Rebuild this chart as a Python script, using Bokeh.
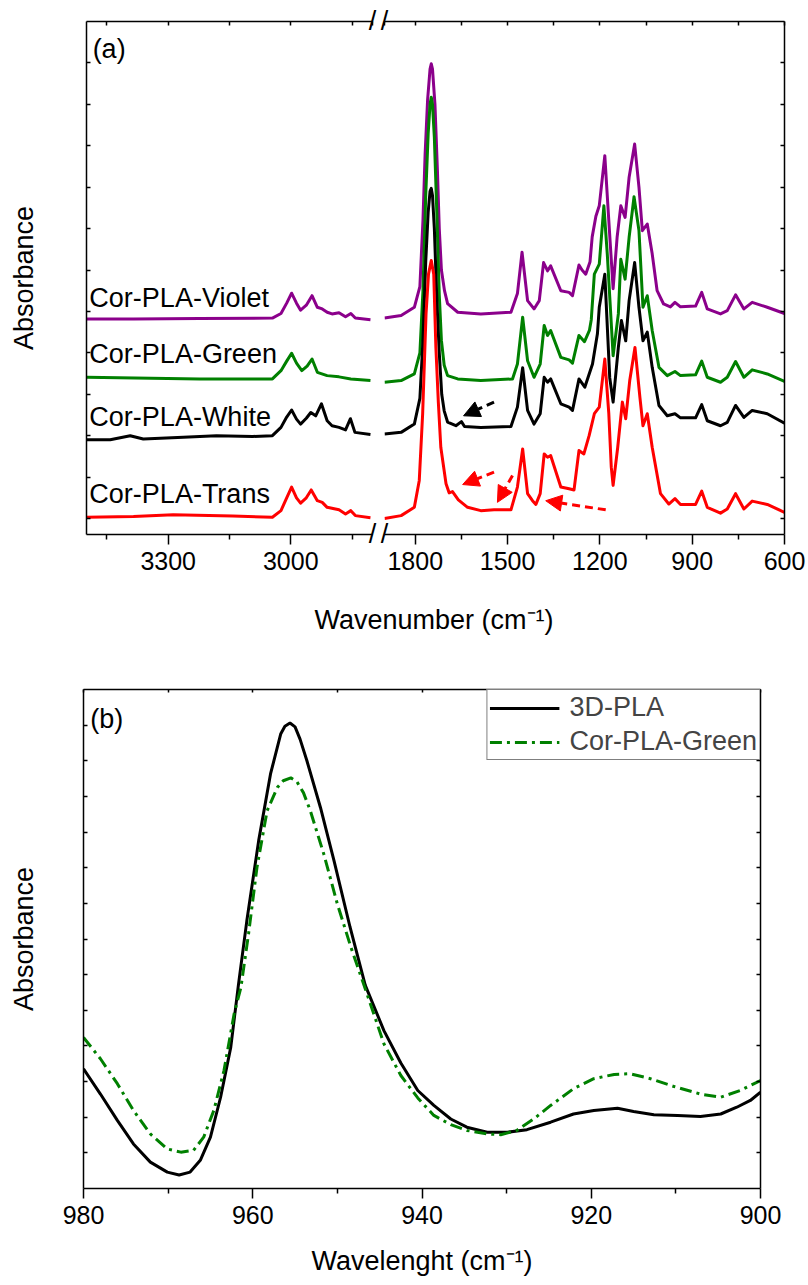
import numpy as np
from bokeh.plotting import figure
from bokeh.models import (Range1d, LinearAxis, FixedTicker, Label, Arrow, NormalHead,
                          CustomJSTickFormatter)
from bokeh.layouts import column, row
from bokeh.embed import file_html
from bokeh.resources import INLINE

NAN = float("nan")
FONT = "Liberation Sans"

# ---------------- panel (a): FTIR spectra (wavenumber, absorbance offset) ----------------
violet = [(3500, 4.82), (3385, 4.82), (3223, 4.83), (3045, 4.84), (3024, 4.95), (3010, 5.20), (2998, 5.44),
          (2986, 5.20), (2976, 5.03), (2962, 5.15), (2948, 5.38), (2935, 5.10), (2923, 5.06), (2911, 4.98),
          (2899, 4.94), (2882, 4.97), (2866, 4.87), (2853, 4.95), (2842, 4.84), (2805, 4.80), (NAN, NAN),
          (1900, 4.84), (1846, 4.90), (1803, 5.10), (1785, 5.60), (1775, 7.20), (1768, 8.80), (1760, 10.10),
          (1752, 10.85), (1748, 10.98), (1744, 10.85), (1736, 10.00), (1728, 8.40), (1722, 7.00), (1715, 6.00),
          (1705, 5.50), (1695, 5.19), (1662, 4.98), (1587, 4.94), (1489, 4.98), (1468, 5.43), (1453, 6.43),
          (1435, 5.26), (1414, 5.06), (1397, 5.26), (1383, 6.18), (1370, 5.98), (1360, 6.10), (1327, 5.50),
          (1300, 5.46), (1289, 5.38), (1268, 6.12), (1258, 6.00), (1246, 5.90), (1232, 6.20), (1225, 6.80),
          (1213, 7.30), (1202, 7.55), (1184, 8.76), (1171, 7.19), (1157, 5.55), (1144, 6.79), (1132, 7.55),
          (1118, 7.27), (1105, 8.24), (1087, 9.04), (1073, 8.00), (1062, 6.95), (1046, 7.11), (1030, 6.39),
          (1014, 5.50), (993, 5.18), (971, 5.11), (956, 5.22), (938, 5.11), (889, 5.13), (869, 5.46),
          (851, 5.06), (808, 4.94), (786, 5.02), (759, 5.40), (732, 5.06), (705, 5.22), (656, 5.10), (600, 4.95)]

green = [(3500, 3.41), (3223, 3.37), (3045, 3.37), (3024, 3.57), (3010, 3.80), (2998, 3.99), (2986, 3.75),
         (2973, 3.57), (2960, 3.68), (2948, 3.85), (2935, 3.53), (2911, 3.45), (2882, 3.42), (2853, 3.37),
         (2805, 3.33), (NAN, NAN),
         (1900, 3.29), (1846, 3.33), (1803, 3.49), (1785, 4.00), (1775, 5.50), (1766, 7.80), (1758, 9.30),
         (1752, 10.00), (1748, 10.17), (1744, 10.00), (1738, 9.20), (1730, 7.40), (1722, 5.40), (1715, 4.30),
         (1706, 3.70), (1695, 3.45), (1662, 3.37), (1587, 3.33), (1484, 3.37), (1468, 3.73), (1451, 4.86),
         (1435, 3.81), (1414, 3.41), (1394, 3.73), (1381, 4.66), (1370, 4.42), (1360, 4.54), (1327, 3.89),
         (1300, 3.83), (1289, 3.75), (1268, 4.42), (1250, 4.27), (1234, 4.54), (1228, 4.80), (1218, 5.90),
         (1202, 6.14), (1187, 7.55), (1176, 6.39), (1166, 5.10), (1157, 3.93), (1140, 4.94), (1132, 6.26),
         (1118, 5.78), (1105, 6.79), (1089, 7.77), (1073, 6.95), (1060, 5.10), (1046, 5.38), (1030, 4.54),
         (1008, 3.65), (981, 3.45), (956, 3.55), (938, 3.45), (889, 3.47), (869, 3.80), (851, 3.41),
         (808, 3.29), (786, 3.41), (759, 3.79), (732, 3.41), (705, 3.59), (656, 3.49), (600, 3.31)]

white = [(3500, 1.90), (3442, 1.90), (3393, 2.00), (3361, 1.92), (3263, 1.96), (3182, 2.00), (3093, 1.98),
         (3045, 2.00), (3024, 2.20), (3010, 2.45), (2998, 2.62), (2986, 2.40), (2976, 2.28), (2962, 2.42),
         (2951, 2.56), (2939, 2.48), (2925, 2.77), (2911, 2.36), (2899, 2.24), (2882, 2.20), (2866, 2.14),
         (2854, 2.41), (2843, 2.08), (2805, 2.03), (NAN, NAN),
         (1900, 2.04), (1846, 2.08), (1803, 2.28), (1785, 2.90), (1775, 4.30), (1766, 6.20), (1758, 7.40),
         (1752, 7.90), (1748, 7.97), (1744, 7.80), (1738, 7.00), (1730, 5.30), (1722, 4.00), (1714, 3.00),
         (1706, 2.60), (1695, 2.33), (1668, 2.24), (1650, 2.34), (1640, 2.22), (1587, 2.20), (1489, 2.22),
         (1468, 2.69), (1451, 3.64), (1435, 2.61), (1414, 2.28), (1394, 2.53), (1381, 3.41), (1370, 3.29),
         (1360, 3.37), (1327, 2.77), (1300, 2.69), (1289, 2.61), (1268, 3.37), (1249, 3.17), (1224, 3.73),
         (1208, 4.46), (1202, 5.10), (1184, 5.90), (1168, 3.40), (1157, 2.81), (1140, 4.13), (1130, 4.78),
         (1116, 4.29), (1105, 5.26), (1087, 6.18), (1073, 5.10), (1060, 4.29), (1046, 4.50), (1030, 3.65),
         (1008, 2.73), (981, 2.48), (956, 2.53), (938, 2.43), (889, 2.43), (869, 2.75), (851, 2.36),
         (808, 2.24), (786, 2.32), (759, 2.73), (732, 2.44), (705, 2.61), (656, 2.53), (600, 2.30)]

trans = [(3500, 0.03), (3385, 0.05), (3288, 0.09), (3142, 0.06), (3045, 0.03), (3024, 0.19), (3010, 0.50),
         (2998, 0.76), (2986, 0.50), (2976, 0.37), (2962, 0.50), (2950, 0.69), (2935, 0.43), (2923, 0.39),
         (2911, 0.27), (2882, 0.21), (2866, 0.11), (2853, 0.19), (2842, 0.07), (2805, 0.02), (NAN, NAN),
         (1900, 0.00), (1846, 0.07), (1803, 0.27), (1787, 0.92), (1776, 2.53), (1765, 4.94), (1757, 5.90),
         (1748, 6.23), (1740, 5.90), (1733, 4.13), (1725, 2.80), (1717, 1.72), (1700, 0.84), (1690, 0.62),
         (1679, 0.65), (1660, 0.45), (1630, 0.27), (1587, 0.19), (1544, 0.21), (1489, 0.21), (1468, 0.76),
         (1451, 1.68), (1435, 0.60), (1419, 0.43), (1408, 0.34), (1394, 0.60), (1381, 1.56), (1370, 1.48),
         (1360, 1.52), (1327, 0.76), (1300, 0.72), (1284, 0.69), (1268, 1.64), (1252, 1.56), (1235, 2.00),
         (1218, 2.53), (1202, 2.69), (1184, 3.85), (1171, 2.53), (1163, 1.24), (1157, 0.80), (1142, 1.72),
         (1127, 2.81), (1116, 2.41), (1103, 3.33), (1086, 4.13), (1070, 2.93), (1060, 2.24), (1046, 2.53),
         (1030, 1.72), (1003, 0.60), (976, 0.35), (956, 0.48), (938, 0.34), (889, 0.34), (869, 0.66),
         (851, 0.27), (808, 0.13), (786, 0.23), (759, 0.60), (732, 0.23), (705, 0.42), (656, 0.34), (600, 0.15)]

series_names = ["Cor-PLA-Violet", "Cor-PLA-Green", "Cor-PLA-White", "Cor-PLA-Trans"]
series_colors = ["#8b008b", "#008000", "#000000", "#ff0000"]
series_data = [violet, green, white, trans]
series_label_y = [5.33, 3.98, 2.44, 0.60]

# annotation arrows (tail wavenumber, tail abs, tip wavenumber, tip abs, colour)
arrows_a = [(1544, 2.81, 1643, 2.48, "#000000"),
            (1544, 1.12, 1646, 0.82, "#ff0000"),
            (1484, 1.04, 1533, 0.39, "#ff0000"),
            (1181, 0.21, 1376, 0.43, "#ff0000")]

# ---------------- panel (b) ----------------
pla3d = [(980, 3.36), (978.0, 2.65), (976.0, 1.91), (974.1, 1.25), (972.1, 0.74), (970.1, 0.46), (968.7, 0.38),
         (967.4, 0.46), (966.2, 0.79), (965.0, 1.44), (963.8, 2.56), (962.6, 3.96), (961.7, 5.70), (960.7, 7.51),
         (959.3, 9.76), (957.9, 11.63), (956.7, 12.75), (956.2, 12.97), (955.6, 13.06), (955.0, 12.95),
         (954.4, 12.60), (953.6, 12.00), (952.0, 10.69), (950.4, 9.20), (948.5, 7.33), (946.7, 5.70),
         (944.5, 4.43), (942.5, 3.52), (940.5, 2.75), (938.6, 2.33), (936.6, 1.95), (934.7, 1.72), (932.3, 1.58),
         (929.9, 1.58), (927.6, 1.65), (924.8, 1.86), (922.1, 2.09), (919.7, 2.19), (916.9, 2.25), (915.0, 2.16),
         (912.6, 2.07), (909.8, 2.05), (907.1, 2.02), (904.7, 2.09), (902.8, 2.28), (901.2, 2.47), (900, 2.70)]
corgreen = [(980, 4.24), (978.0, 3.64), (976.0, 2.94), (974.1, 2.19), (972.1, 1.53), (970.1, 1.11), (968.5, 1.02),
            (967.0, 1.07), (965.8, 1.44), (964.6, 2.19), (963.4, 3.31), (962.2, 4.90), (961.4, 5.64), (960.5, 7.14),
            (959.5, 9.01), (958.3, 10.60), (957.1, 11.25), (956.4, 11.44), (955.5, 11.52), (954.8, 11.42),
            (954.0, 11.10), (953.2, 10.60), (951.6, 9.38), (950.0, 7.98), (948.4, 6.77), (946.7, 5.60),
            (944.5, 4.06), (942.5, 3.17), (940.5, 2.54), (938.6, 2.05), (936.6, 1.79), (934.7, 1.63), (932.3, 1.53),
            (930.7, 1.51), (928.8, 1.63), (926.8, 1.95), (924.8, 2.33), (922.1, 2.80), (919.7, 3.08), (917.3, 3.20),
            (915.4, 3.22), (913.0, 3.08), (910.2, 2.86), (907.1, 2.65), (904.7, 2.56), (902.4, 2.75), (900, 3.03)]

ticks_a_left = [3300, 3000]
minor_a_left = [3450, 3150, 2850]
ticks_a_right = [1800, 1500, 1200, 900, 600]
minor_a_right = [1650, 1350, 1050, 750]
ticks_b = [980, 960, 940, 920, 900]
minor_b = [970, 950, 930, 910]

TICK_FS = "25px"
TEXT_FS = "27px"


def style_axis(ax, labels=False, tin=0, tout=0, mtin=0, mtout=0, standoff=7):
    ax.axis_line_color = "black"
    ax.axis_line_width = 1.5
    ax.major_tick_line_color = "black"
    ax.major_tick_line_width = 1.5
    ax.minor_tick_line_color = "black"
    ax.minor_tick_line_width = 1.5
    ax.major_tick_in = tin
    ax.major_tick_out = tout
    ax.minor_tick_in = mtin
    ax.minor_tick_out = mtout
    ax.major_label_text_font = FONT
    if labels:
        ax.major_label_text_font_size = TICK_FS
        ax.major_label_text_color = "black"
        ax.major_label_standoff = standoff
    else:
        ax.major_label_text_font_size = "0px"
        ax.major_label_text_color = None
        ax.major_label_standoff = 0
    ax.axis_label_text_font = FONT
    ax.axis_label_text_font_size = TEXT_FS
    ax.axis_label_text_font_style = "normal"
    ax.axis_label_text_color = "black"


def break_top_axis(ticks, edge):
    """Top frame edge with inward ticks; its only label is the '/' break mark at the broken edge."""
    ax = LinearAxis(ticker=FixedTicker(ticks=sorted(ticks + [edge])),
                    formatter=CustomJSTickFormatter(args=dict(edge=edge),
                                                    code="return Math.abs(tick - edge) < 0.5 ? '/' : '';"))
    style_axis(ax, tin=4)
    ax.major_label_text_font_size = "27px"
    ax.major_label_text_color = "black"
    ax.major_label_standoff = -14
    return ax


def slash_axis(tick, standoff):
    """Bare axis carrying only the '/' break mark below the frame edge."""
    ax = LinearAxis(ticker=FixedTicker(ticks=[tick]),
                    formatter=CustomJSTickFormatter(code="return '/'"))
    ax.axis_line_color = None
    ax.major_tick_line_color = None
    ax.minor_tick_line_color = None
    ax.major_label_text_font = FONT
    ax.major_label_text_font_size = "27px"
    ax.major_label_text_color = "black"
    ax.major_label_standoff = standoff
    return ax


yr_a = Range1d(-0.386, 12.0)
common = dict(output_backend="svg", toolbar_location=None)

# left segment
pl = figure(frame_width=286, frame_height=513, x_range=Range1d(3500, 2800), y_range=yr_a,
            min_border_left=86, min_border_right=6, min_border_top=21, min_border_bottom=56, **common)
# right segment
pr = figure(frame_width=400, frame_height=513, x_range=Range1d(1900, 600), y_range=yr_a,
            y_axis_location="right",
            min_border_left=6, min_border_right=24, min_border_top=21, min_border_bottom=56, **common)

for p in (pl, pr):
    p.outline_line_color = None
    p.grid.visible = False

pl.xaxis[0].ticker = FixedTicker(ticks=ticks_a_left, minor_ticks=minor_a_left)
style_axis(pl.xaxis[0], labels=True, tout=10, mtout=5)
pl.yaxis[0].ticker = FixedTicker(ticks=list(range(0, 12)))
style_axis(pl.yaxis[0], tin=4)
pl.yaxis[0].axis_label = "Absorbance"
pl.yaxis[0].axis_label_standoff = 48
pl.add_layout(break_top_axis(ticks_a_left + minor_a_left, 2800), "above")
pl.add_layout(slash_axis(2800, -60), "below")

pr.xaxis[0].ticker = FixedTicker(ticks=ticks_a_right, minor_ticks=minor_a_right)
style_axis(pr.xaxis[0], labels=True, tout=10, mtout=5)
pr.yaxis[0].ticker = FixedTicker(ticks=list(range(0, 12)))
style_axis(pr.yaxis[0], tin=4)
pr.add_layout(break_top_axis(ticks_a_right + minor_a_right, 1900), "above")
pr.add_layout(slash_axis(1900, -60), "below")

for data, col in zip(series_data, series_colors):
    wn = np.array([d[0] for d in data], dtype=float)
    ab = np.array([d[1] for d in data], dtype=float)
    for p in (pl, pr):
        p.line(wn, ab, line_color=col, line_width=3, line_join="round")

for name, col, ly in zip(series_names, series_colors, series_label_y):
    pl.add_layout(Label(x=3493, y=ly, text=name, text_font=FONT, text_font_size=TEXT_FS,
                        text_color="black", text_baseline="middle", text_align="left"))

pl.add_layout(Label(x=3485, y=11.70, text="(a)", text_font=FONT, text_font_size=TEXT_FS,
                    text_color="black", text_baseline="top", text_align="left"))

for xs, ys, xe, ye, col in arrows_a:
    pr.add_layout(Arrow(x_start=xs, y_start=ys, x_end=xe, y_end=ye, line_color=col, line_width=3,
                        line_dash="8 5",
                        end=NormalHead(size=16, fill_color=col, line_color=col, line_width=1)))

# ---------------- panel (b) figure ----------------
pb = figure(frame_width=677, frame_height=499, x_range=Range1d(980, 900), y_range=Range1d(0, 14),
            min_border_left=83, min_border_right=48, min_border_top=99, min_border_bottom=96,
            title="Wavenumber (cm\u207b\u00b9)", **common)
pb.outline_line_color = None
pb.grid.visible = False
# the title carries the x-axis title of panel (a)
pb.title.text_font = FONT
pb.title.text_font_size = TEXT_FS
pb.title.text_font_style = "normal"
pb.title.text_color = "black"
pb.title.align = "left"
pb.title.offset = 231
pb.title.standoff = 0

pb.xaxis[0].ticker = FixedTicker(ticks=ticks_b, minor_ticks=minor_b)
style_axis(pb.xaxis[0], labels=True, tout=10, mtout=5)
pb.xaxis[0].axis_label = "Wavelenght (cm\u207b\u00b9)"
pb.xaxis[0].axis_label_standoff = 19
pb.yaxis[0].ticker = FixedTicker(ticks=list(range(1, 14)))
style_axis(pb.yaxis[0], tin=4)
pb.yaxis[0].axis_label = "Absorbance"
pb.yaxis[0].axis_label_standoff = 45
top_b = LinearAxis(ticker=FixedTicker(ticks=sorted(ticks_b + minor_b)))
style_axis(top_b, tin=3)
pb.add_layout(top_b, "above")
right_b = LinearAxis(ticker=FixedTicker(ticks=list(range(1, 14))))
style_axis(right_b, tin=4)
pb.add_layout(right_b, "right")

# invisible spacer (an unlabelled, undrawn tick) between panel (b) and the title above it
spacer = LinearAxis(ticker=FixedTicker(ticks=[940]),
                    formatter=CustomJSTickFormatter(code="return '';"))
style_axis(spacer, tout=55)
spacer.axis_line_color = None
spacer.major_tick_line_color = None
spacer.minor_tick_line_color = None
pb.add_layout(spacer, "above")

wl1 = np.array([d[0] for d in pla3d]); ab1 = np.array([d[1] for d in pla3d])
wl2 = np.array([d[0] for d in corgreen]); ab2 = np.array([d[1] for d in corgreen])
pb.line(wl1, ab1, line_color="black", line_width=3, legend_label="3D-PLA")
pb.line(wl2, ab2, line_color="#008000", line_width=3, line_dash="12 5 3 5", legend_label="Cor-PLA-Green")

lg = pb.legend[0]
lg.location = "top_right"
lg.margin = 0
lg.padding = 2
lg.spacing = 3
lg.glyph_width = 70
lg.glyph_height = 20
lg.label_height = 30
lg.label_standoff = 10
lg.label_text_font = FONT
lg.label_text_font_size = TEXT_FS
lg.border_line_color = "black"
lg.border_line_width = 1.5
lg.background_fill_alpha = 1.0

pb.add_layout(Label(x=979.2, y=13.6, text="(b)", text_font=FONT, text_font_size=TEXT_FS,
                    text_color="black", text_baseline="top", text_align="left"))

layout = column(row(pl, pr), pb)
open("out.html", "w").write(file_html(layout, INLINE))
